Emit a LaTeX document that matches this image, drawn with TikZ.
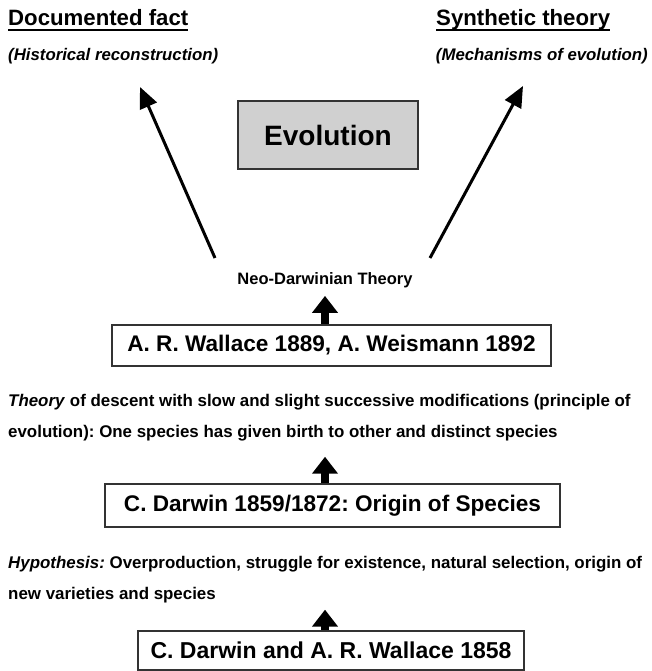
\documentclass[tikz,border=0pt]{standalone}
\usepackage{fontspec}
\setmainfont{Liberation Sans}
\usetikzlibrary{arrows.meta}
\definecolor{boxgray}{HTML}{D0D0D0}
\definecolor{edge}{HTML}{333333}
\frenchspacing
\begin{document}
\begin{tikzpicture}[x=1pt,y=-1pt,
  every node/.style={inner sep=0pt},
  heading/.style={font=\fontsize{22.2}{26}\selectfont\bfseries},
  subheading/.style={font=\fontsize{16.8}{20}\selectfont\bfseries\itshape},
  para/.style={font=\fontsize{16.9}{31.5}\selectfont\bfseries\frenchspacing, align=left, anchor=north west},
  refbox/.style={draw=edge, line width=1.8pt, fill=white, font=\fontsize{22.6}{26}\selectfont\bfseries\frenchspacing},
  thinarrow/.style={line width=3pt, -{Triangle[length=21pt,width=18pt]}},
  fatarrow/.style={line width=8pt, -{Triangle[length=17pt,width=25pt]}}
]
\useasboundingbox (0,0) rectangle (651,671);

% headings
\node[heading, anchor=base west] (doc) at (8,26) {Documented fact};
\draw[line width=1.8pt] ([yshift=-4pt]doc.base west) -- ([yshift=-4pt]doc.base east);
\node[subheading, anchor=base west] (hist) at (8,61) {(Historical reconstruction)};

\node[heading, anchor=base west] (syn) at (436,26) {Synthetic theory};
\draw[line width=1.8pt] ([yshift=-4pt]syn.base west) -- ([yshift=-4pt]syn.base east);
\node[subheading, anchor=base east] (mech) at (648,61) {(Mechanisms of evolution)};

% evolution box
\node[draw=edge, line width=1.5pt, fill=boxgray, minimum width=180pt, minimum height=68pt,
      font=\fontsize{28}{32}\selectfont\bfseries] (evo) at (328,135) {Evolution};

% neo-darwinian
\node[font=\fontsize{16.5}{20}\selectfont\bfseries] (neo) at (325,280) {Neo-Darwinian Theory};
\coordinate (ltail) at (215,258);
\coordinate (ltip) at (140,87);
\coordinate (rtail) at (430,258);
\coordinate (rtip) at (523,86);
\draw[thinarrow] (ltail) -- (ltip);
\draw[thinarrow] (rtail) -- (rtip);

% boxes
\node[refbox, minimum width=439pt, minimum height=41pt] (wallace) at (331.5,345.5) {A. R. Wallace 1889, A. Weismann 1892};
\node[refbox, minimum width=455pt, minimum height=43pt] (darwin) at (332.5,505.5) {C. Darwin 1859/1872: Origin of Species};
\node[refbox, minimum width=386pt, minimum height=39pt, font=\fontsize{23}{26}\selectfont\bfseries] (dw) at (331,650.5) {C. Darwin and A. R. Wallace 1858};

% paragraphs
\node[para] (theory) at (8,394) {\textit{Theory} of descent with slow and slight successive modifications (principle of\\evolution): One species has given birth to other and distinct species};
\node[para] (hyp) at (8,556) {\textit{Hypothesis:} Overproduction, struggle for existence, natural selection, origin of\\new varieties and species};

% fat arrows
\draw[fatarrow, shorten >=8pt] (wallace.north -| neo) -- (neo.south);
\draw[fatarrow, shorten >=15pt] (darwin.north -| neo) -- (theory.south -| neo);
\draw[fatarrow, shorten >=6pt] (dw.north -| neo) -- (hyp.south -| neo);
\end{tikzpicture}
\end{document}
